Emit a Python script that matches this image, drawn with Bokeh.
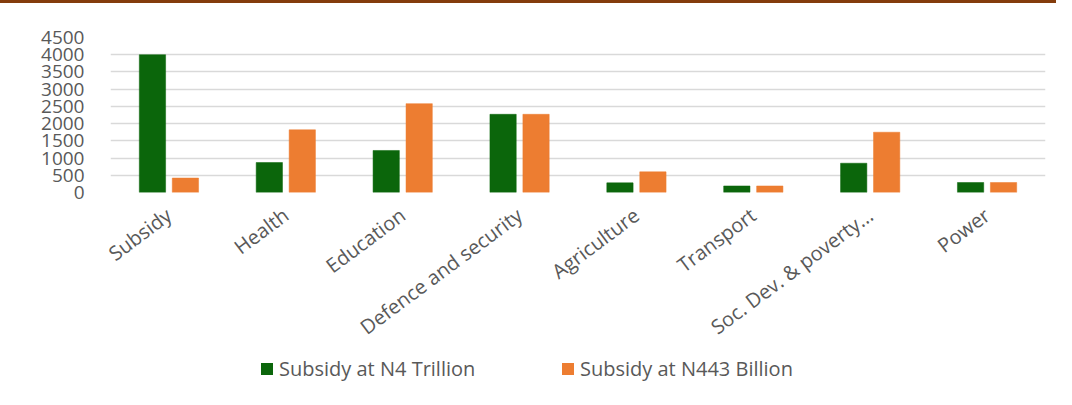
from bokeh.plotting import figure
from bokeh.models import FactorRange, Range1d, Legend, LegendItem, Div
from bokeh.layouts import column
from bokeh.transform import dodge
from bokeh.embed import file_html
from bokeh.resources import INLINE

categories = ["Subsidy", "Health", "Education", "Defence and security",
              "Agriculture", "Transport", "Soc. Dev. & poverty...", "Power"]
subsidy_4_trillion = [4000, 870, 1220, 2270, 280, 190, 850, 290]
subsidy_443_billion = [420, 1820, 2580, 2270, 600, 190, 1750, 290]
series_names = ["Subsidy at N4 Trillion", "Subsidy at N443 Billion"]
y_ticks = [0, 500, 1000, 1500, 2000, 2500, 3000, 3500, 4000, 4500]

GREEN = "#0B660B"
ORANGE = "#ED7D31"
TEXT = "#595959"
FONT = "Open Sans"

data = dict(cat=categories, a=subsidy_4_trillion, b=subsidy_443_billion)

# ---- top rule ----
rule = Div(text="", width=1056, height=3, margin=(0, 0, 0, 0),
           styles={"background-color": "#843C0C"})

# ---- main chart ----
p = figure(x_range=FactorRange(*categories), y_range=Range1d(0, 4500),
           width=1056, height=352, output_backend="svg", toolbar_location=None,
           min_border_left=110, min_border_right=11, min_border_top=34,
           min_border_bottom=163)
p.outline_line_color = None
p.background_fill_color = "white"
p.border_fill_color = "white"

p.vbar(x=dodge("cat", -0.141, range=p.x_range), top="a", width=0.225, source=data,
       fill_color=GREEN, line_color=GREEN, line_width=0.5)
p.vbar(x=dodge("cat", 0.141, range=p.x_range), top="b", width=0.225, source=data,
       fill_color=ORANGE, line_color=ORANGE, line_width=0.5)

p.xgrid.grid_line_color = None
p.ygrid.grid_line_color = "#D9D9D9"
p.ygrid.grid_line_width = 1.5
p.yaxis.ticker = y_ticks

for ax in (p.xaxis, p.yaxis):
    ax.axis_line_color = None
    ax.major_tick_line_color = None
    ax.minor_tick_line_color = None
    ax.major_tick_out = 0
    ax.major_tick_in = 0
    ax.major_label_text_font = FONT
    ax.major_label_text_color = TEXT

p.yaxis.major_label_text_font_size = "19px"
p.xaxis.major_label_text_font_size = "20px"
p.yaxis.major_label_standoff = 26
p.xaxis.major_label_orientation = 0.64
p.xaxis.major_label_standoff = 20

# ---- legend strip ----
q = figure(x_range=FactorRange(*categories), y_range=Range1d(10000, 10001),
           width=1056, height=34, output_backend="svg", toolbar_location=None,
           x_axis_location=None, y_axis_location=None,
           min_border_left=0, min_border_right=0, min_border_top=0, min_border_bottom=0)
q.outline_line_color = None
q.grid.grid_line_color = None
q.border_fill_color = "white"
r1 = q.vbar(x="cat", top="a", width=0.2, source=data, fill_color=GREEN, line_color=None)
r2 = q.vbar(x="cat", top="b", width=0.2, source=data, fill_color=ORANGE, line_color=None)

for name, rend, x0 in ((series_names[0], r1, 149), (series_names[1], r2, 450)):
    lg = Legend(items=[LegendItem(label=name, renderers=[rend])], location=(x0, 7))
    lg.padding = 0
    lg.margin = 0
    lg.border_line_color = None
    lg.background_fill_alpha = 0
    lg.glyph_width = 15
    lg.glyph_height = 15
    lg.label_standoff = 5
    lg.label_text_font = FONT
    lg.label_text_font_size = "20px"
    lg.label_text_color = TEXT
    q.add_layout(lg, "center")

layout = column(rule, p, q, spacing=0)
out = file_html(layout, INLINE)
open("out.html", "w").write(out)
